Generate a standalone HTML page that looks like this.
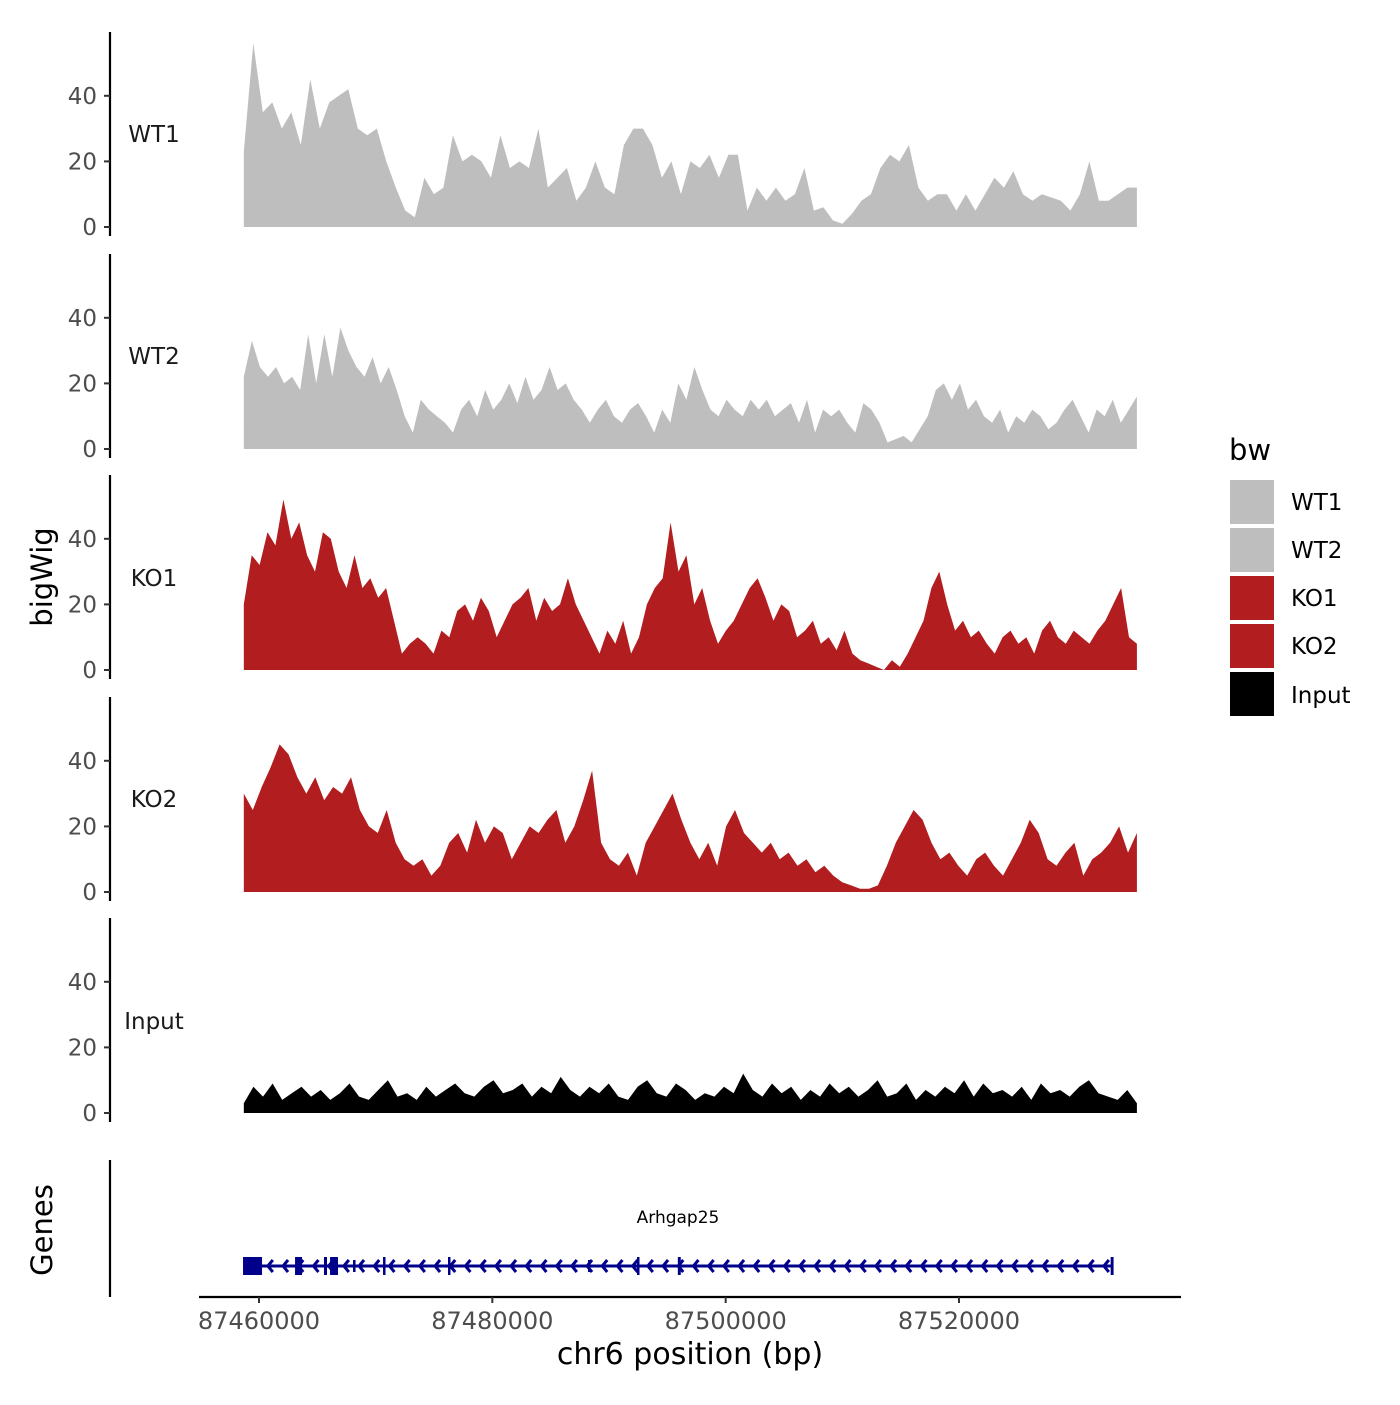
<!DOCTYPE html>
<html><head><meta charset="utf-8"><style>
body{margin:0;background:#fff}
svg text{font-family:"DejaVu Sans","Liberation Sans",sans-serif}
</style></head><body>
<svg id="chart" width="1400" height="1400" viewBox="0 0 1400 1400" xmlns="http://www.w3.org/2000/svg">
<g id="panels"></g>
<g id="genes"></g>
<g id="xaxis"></g>
<text x="154" y="142" font-size="23" fill="#1a1a1a" text-anchor="middle">WT1</text>
<text x="154" y="364" font-size="23" fill="#1a1a1a" text-anchor="middle">WT2</text>
<text x="154" y="586" font-size="23" fill="#1a1a1a" text-anchor="middle">KO1</text>
<text x="154" y="807" font-size="23" fill="#1a1a1a" text-anchor="middle">KO2</text>
<text x="154" y="1029" font-size="23" fill="#1a1a1a" text-anchor="middle">Input</text>
<text transform="translate(52,577) rotate(-90)" font-size="29" text-anchor="middle">bigWig</text>
<text transform="translate(52,1230) rotate(-90)" font-size="29" text-anchor="middle">Genes</text>
<text x="690" y="1364" font-size="30" text-anchor="middle">chr6 position (bp)</text>
<g>
<text x="1229" y="460" font-size="29">bw</text>
<rect x="1230" y="480" width="44" height="44" fill="#bebebe"/>
<rect x="1230" y="528" width="44" height="44" fill="#bebebe"/>
<rect x="1230" y="576" width="44" height="44" fill="#b21d1f"/>
<rect x="1230" y="624" width="44" height="44" fill="#b21d1f"/>
<rect x="1230" y="672" width="44" height="44" fill="#000"/>
<text x="1291" y="510" font-size="23">WT1</text>
<text x="1291" y="558" font-size="23">WT2</text>
<text x="1291" y="606" font-size="23">KO1</text>
<text x="1291" y="654" font-size="23">KO2</text>
<text x="1291" y="703" font-size="23">Input</text>
</g>
</svg>
<script>
const startBp = 87458700, endBp = 87535250;
const trackNames = ["WT1","WT2","KO1","KO2","Input"];
const trackColors = ["#bebebe","#bebebe","#b21d1f","#b21d1f","#000000"];
const wt1 = [23,56,35,38,30,35,25,45,30,38,40,42,30,28,30,20,12,5,3,15,10,12,28,20,22,20,15,28,18,20,18,30,12,15,18,8,12,20,12,10,25,30,30,25,15,20,10,20,18,22,15,22,22,5,12,8,12,8,10,18,5,6,2,1,4,8,10,18,22,20,25,12,8,10,10,5,10,5,10,15,12,17,10,8,10,9,8,5,10,20,8,8,10,12,12];
const wt2 = [22,33,25,22,25,20,22,18,35,20,35,22,37,30,25,22,28,20,25,18,10,5,15,12,10,8,5,12,15,10,18,12,15,20,14,22,15,18,25,18,20,15,12,8,12,15,10,8,12,14,10,5,12,8,20,15,25,18,12,10,15,12,10,15,12,15,10,12,14,8,15,5,12,10,12,8,5,14,12,8,2,3,4,2,6,10,18,20,15,20,12,15,10,8,12,5,10,8,12,10,6,8,12,15,10,5,12,10,15,8,12,16];
const ko1 = [20,35,32,42,38,52,40,45,35,30,42,40,30,25,35,25,28,22,25,15,5,8,10,8,5,12,10,18,20,15,22,18,10,15,20,22,25,15,22,18,20,28,20,15,10,5,12,8,15,5,10,20,25,28,45,30,35,20,25,15,8,12,15,20,25,28,22,15,20,18,10,12,15,8,10,6,12,5,3,2,1,0,3,1,5,10,15,25,30,20,12,15,10,12,8,5,10,12,8,10,5,12,15,10,8,12,10,8,12,15,20,25,10,8];
const ko2 = [30,25,32,38,45,42,35,30,35,28,32,30,35,25,20,18,25,15,10,8,10,5,8,15,18,12,22,15,20,18,10,15,20,18,22,25,15,20,28,37,15,10,8,12,5,15,20,25,30,22,15,10,15,8,20,25,18,15,12,15,10,12,8,10,6,8,5,3,2,1,1,2,8,15,20,25,22,15,10,12,8,5,10,12,8,5,10,15,22,18,10,8,12,15,5,10,12,15,20,12,18];
const inputTrack = [3,8,5,9,4,6,8,5,7,4,6,9,5,4,7,10,5,6,4,8,5,7,9,6,5,8,10,6,7,9,5,8,6,11,7,5,8,6,9,5,4,8,10,6,5,9,7,4,6,5,8,6,12,7,5,9,6,8,4,7,5,9,6,8,5,7,10,5,6,9,4,7,5,8,6,10,5,9,6,7,5,8,4,9,6,7,5,8,10,6,5,4,7,3];
const trackData = [wt1,wt2,ko1,ko2,inputTrack];
const yTicks = [0,20,40];
const xTicks = [87460000,87480000,87500000,87520000];
const geneName = "Arhgap25";
const geneStart = 87458700, geneEnd = 87533110;
const exonStarts = [87458630,87463090,87465570,87466090,87468060,87470630,87476200,87488200,87492400,87495900,87533000];
const exonEnds   = [87460260,87463690,87465830,87466770,87468200,87470800,87476350,87488350,87492550,87496150,87533250];
const exonTall   = [1,1,1,1,0,1,1,0,1,1,1];

const NS="http://www.w3.org/2000/svg";
function mk(tag, attrs, parent){const e=document.createElementNS(NS,tag);for(const k in attrs)e.setAttribute(k,attrs[k]);parent.appendChild(e);return e;}
const xScale = bp => 259 + (bp-87460000)*700/60000;
const panelZero = [227,449,670,892,1113];
const yScale = (i,v) => panelZero[i] - v*3.28;

const panels=document.getElementById('panels');
trackData.forEach((arr,i)=>{
  const g=mk('g',{},panels);
  
  
  const n=arr.length, step=(endBp-startBp)/(n-1);
  let d='M'+xScale(startBp)+','+panelZero[i];
  arr.forEach((v,j)=>{d+=' L'+xScale(startBp+j*step).toFixed(1)+','+yScale(i,v).toFixed(1);});
  d+=' L'+xScale(endBp)+','+panelZero[i]+' Z';
  const p=mk('path',{d:d,fill:trackColors[i]},g);
  
  
  const top=panelZero[i]-195;
  const ax=mk('line',{x1:110,x2:110,y1:top,y2:panelZero[i]+9,stroke:'#000','stroke-width':2.2},g);
  
  
  yTicks.forEach(t=>{
    const y=yScale(i,t);
    mk('line',{x1:104,x2:110,y1:y,y2:y,stroke:'#333','stroke-width':2},g);
    const tx=mk('text',{x:97,y:y+8,'font-size':23,fill:'#4d4d4d','text-anchor':'end'},g);
    tx.textContent=t;
    
    
  });
});

const gg=document.getElementById('genes');
mk('line',{x1:110,x2:110,y1:1160,y2:1297,stroke:'#000','stroke-width':2.2},gg);
const gl=mk('line',{x1:xScale(geneStart),x2:xScale(geneEnd),y1:1266,y2:1266,stroke:'#00008b','stroke-width':3},gg);


for(let x=xScale(geneStart)+24;x<xScale(geneEnd)-8;x+=15.2){
  mk('path',{d:`M${x+5},${1260} L${x},${1266} L${x+5},${1272}`,stroke:'#00008b','stroke-width':3,fill:'none'},gg);
}
exonStarts.forEach((s,k)=>{
  const h=exonTall[k]?18:12;
  const r=mk('rect',{x:xScale(s),y:1266-h/2,width:Math.max(2.5,xScale(exonEnds[k])-xScale(s)),height:h,fill:'#00008b'},gg);
  
  
});
const gt=mk('text',{x:678,y:1223,'font-size':17,'text-anchor':'middle'},gg);
gt.textContent=geneName;



const xa=document.getElementById('xaxis');
mk('line',{x1:199,x2:1181,y1:1297,y2:1297,stroke:'#000','stroke-width':2.2},xa);
xTicks.forEach(t=>{
  const x=xScale(t);
  mk('line',{x1:x,x2:x,y1:1297,y2:1303,stroke:'#333','stroke-width':2},xa);
  const tx=mk('text',{x:x,y:1329,'font-size':24,fill:'#4d4d4d','text-anchor':'middle'},xa);
  tx.textContent=t;
  
  
});
</script>
</body></html>
